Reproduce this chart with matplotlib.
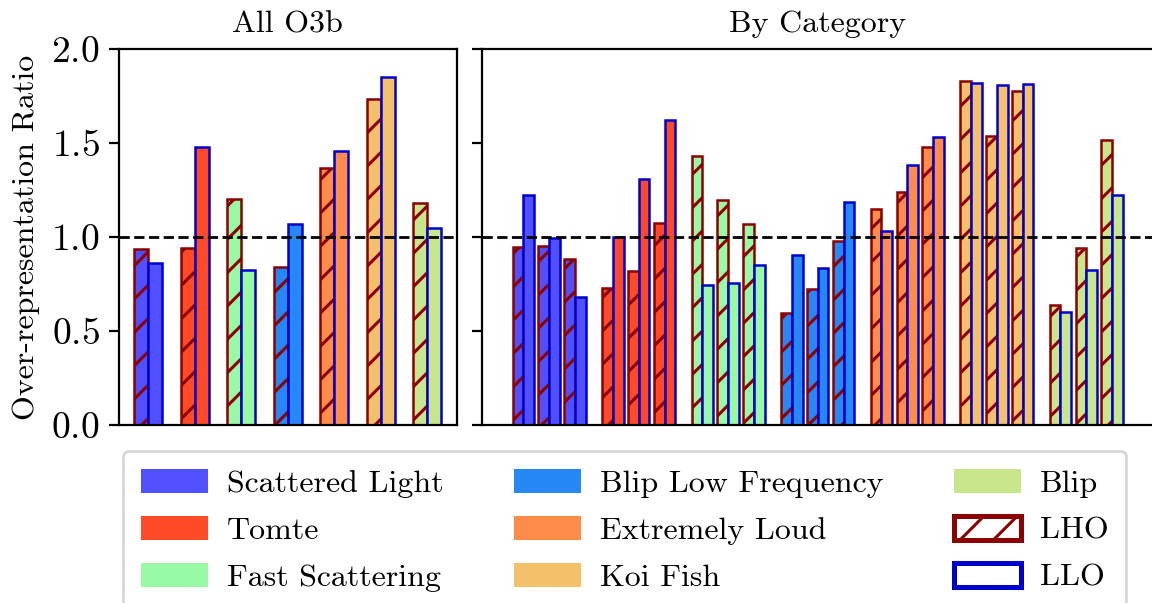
import matplotlib
matplotlib.use('Agg')
import matplotlib.pyplot as plt
from matplotlib.patches import Patch
import numpy as np

plt.rcParams['font.family'] = 'serif'
plt.rcParams['font.serif'] = ['cmr10']
plt.rcParams['mathtext.fontset'] = 'cm'
plt.rcParams['axes.formatter.use_mathtext'] = True
plt.rcParams['hatch.linewidth'] = 1.1

categories = ["Scattered Light", "Tomte", "Fast Scattering", "Blip Low Frequency",
              "Extremely Loud", "Koi Fish", "Blip"]
colors = ["#5050FF", "#FF4A28", "#98FAA4", "#2688F5", "#FF8C48", "#F5C06A", "#C8E68C"]

# All O3b
all_lho = [0.938, 0.941, 1.202, 0.840, 1.365, 1.732, 1.181]
all_llo = [0.863, 1.480, 0.824, 1.067, 1.457, 1.853, 1.046]

# By category (three sub-groups per category)
cat_lho = [
    [0.945, 0.952, 0.883],
    [0.727, 0.817, 1.076],
    [1.429, 1.199, 1.071],
    [0.594, 0.722, 0.980],
    [1.149, 1.241, 1.480],
    [1.830, 1.537, 1.775],
    [0.638, 0.943, 1.514],
]
cat_llo = [
    [1.223, 0.996, 0.683],
    [1.000, 1.307, 1.622],
    [0.743, 0.754, 0.849],
    [0.904, 0.835, 1.188],
    [1.034, 1.383, 1.534],
    [1.819, 1.810, 1.814],
    [0.601, 0.824, 1.223],
]

yticks = [0.0, 0.5, 1.0, 1.5, 2.0]

LHO_EDGE = 'darkred'
LLO_EDGE = 'mediumblue'

fig = plt.figure(figsize=(5.76, 3.015), dpi=200)
ax1 = fig.add_axes([0.1033, 0.2952, 0.2931, 0.6235])
ax2 = fig.add_axes([0.4184, 0.2952, 0.5829, 0.6235])

x = np.arange(len(categories))
w1 = 0.3
for i in range(len(categories)):
    ax1.bar(x[i] - w1 / 2, all_lho[i], w1, color=colors[i], edgecolor=LHO_EDGE,
            hatch='//', linewidth=0.9)
    ax1.bar(x[i] + w1 / 2, all_llo[i], w1, color=colors[i], edgecolor=LLO_EDGE,
            linewidth=0.9)

w2 = 0.12
offs = [-0.29, 0.0, 0.29]
for i in range(len(categories)):
    for j, o in enumerate(offs):
        ax2.bar(x[i] + o - w2 / 2, cat_lho[i][j], w2, color=colors[i],
                edgecolor=LHO_EDGE, hatch='//', linewidth=0.9)
        ax2.bar(x[i] + o + w2 / 2, cat_llo[i][j], w2, color=colors[i],
                edgecolor=LLO_EDGE, linewidth=0.9)

for ax in (ax1, ax2):
    ax.axhline(1.0, color='black', linestyle='--', linewidth=1.0)
    ax.set_ylim(0, 2.0)
    ax.set_yticks(yticks)
    ax.set_xticks([])
    ax.tick_params(axis='y', labelsize=13.5)

ax2.set_yticklabels([])
ax1.set_ylabel('Over-representation Ratio', fontsize=11.5)
ax1.set_title('All O3b', fontsize=11.5)
ax2.set_title('By Category', fontsize=11.5)

handles = [Patch(facecolor=c, edgecolor='none', label=n) for c, n in zip(colors, categories)]
handles.append(Patch(facecolor='white', edgecolor=LHO_EDGE, hatch='//', linewidth=1.8, label='LHO'))
handles.append(Patch(facecolor='white', edgecolor=LLO_EDGE, linewidth=1.8, label='LLO'))

fig.legend(handles=handles, ncol=3, loc='upper left',
           bbox_to_anchor=(123 / 1152, 1 - 451 / 603), borderaxespad=0,
           fontsize=11.5, handlelength=2.1, handleheight=0.78,
           handletextpad=0.6, columnspacing=2.2, labelspacing=0.56,
           borderpad=0.55)

fig.savefig('out.png', dpi=200)
